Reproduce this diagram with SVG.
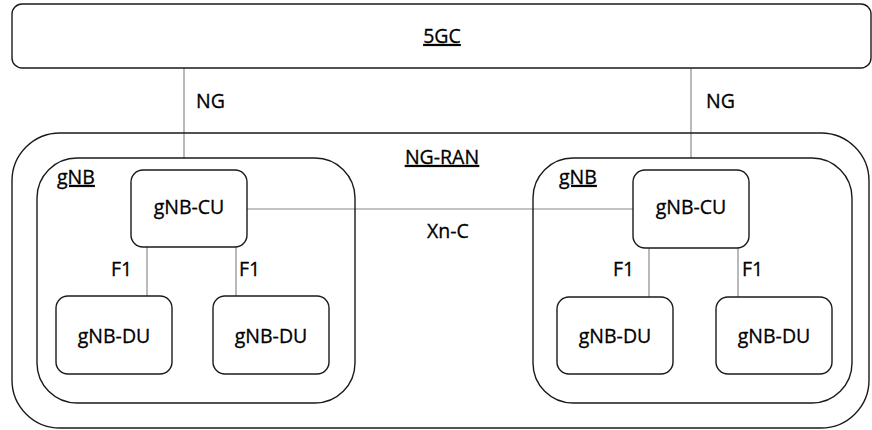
<svg xmlns="http://www.w3.org/2000/svg" width="872" height="430" viewBox="0 0 872 430">
<style>
.box{fill:none;stroke:#1a1a1a;stroke-width:1.4}
.conn{stroke:#8a8a8a;stroke-width:1.2;fill:none}
text{font-family:"Open Sans","Liberation Sans",sans-serif;font-size:19.5px;fill:#000;stroke:#000;stroke-width:0.3}
.c{text-anchor:middle}
.u{text-decoration:underline}
</style>
<rect width="872" height="430" fill="#fff"/>
<g id="connectors">
<line class="conn" x1="184" y1="68" x2="184" y2="158"/>
<line class="conn" x1="691" y1="68" x2="691" y2="158"/>
<line class="conn" x1="247" y1="209" x2="633" y2="209"/>
<line class="conn" x1="147" y1="247" x2="147" y2="296"/>
<line class="conn" x1="236" y1="247" x2="236" y2="296"/>
<line class="conn" x1="649" y1="248" x2="649" y2="297"/>
<line class="conn" x1="738" y1="248" x2="738" y2="297"/>
<text x="196" y="108">NG</text>
<text x="706" y="108">NG</text>
<text class="c" x="448" y="238">Xn-C</text>
<text x="111" y="276">F1</text>
<text x="239" y="276">F1</text>
<text x="613" y="276">F1</text>
<text x="742" y="276">F1</text>
</g>
<g id="fivegc">
<rect class="box" x="12" y="4" width="859" height="64" rx="10"/>
<text class="c u" x="442" y="43">5GC</text>
</g>
<g id="ngran">
<rect class="box" x="12" y="133" width="857" height="295" rx="48"/>
<text class="c u" x="442" y="164">NG-RAN</text>
</g>
<g id="gnb-left">
<rect class="box" x="37" y="158" width="318" height="245" rx="40"/>
<text class="u" x="57" y="184">gNB</text>
</g>
<g id="gnb-right">
<rect class="box" x="533" y="158" width="319" height="245" rx="40"/>
<text class="u" x="559" y="184">gNB</text>
</g>
<g id="cu-left">
<rect class="box" x="131" y="170" width="116" height="77" rx="12"/>
<text class="c" x="189" y="214">gNB-CU</text>
</g>
<g id="cu-right">
<rect class="box" x="633" y="170" width="116" height="78" rx="12"/>
<text class="c" x="691" y="214">gNB-CU</text>
</g>
<g id="du-left-1">
<rect class="box" x="56" y="296" width="116" height="78" rx="12"/>
<text class="c" x="114" y="343">gNB-DU</text>
</g>
<g id="du-left-2">
<rect class="box" x="213" y="296" width="116" height="78" rx="12"/>
<text class="c" x="271" y="343">gNB-DU</text>
</g>
<g id="du-right-1">
<rect class="box" x="557" y="297" width="116" height="77" rx="12"/>
<text class="c" x="615" y="343">gNB-DU</text>
</g>
<g id="du-right-2">
<rect class="box" x="716" y="297" width="116" height="77" rx="12"/>
<text class="c" x="774" y="343">gNB-DU</text>
</g>
</svg>
